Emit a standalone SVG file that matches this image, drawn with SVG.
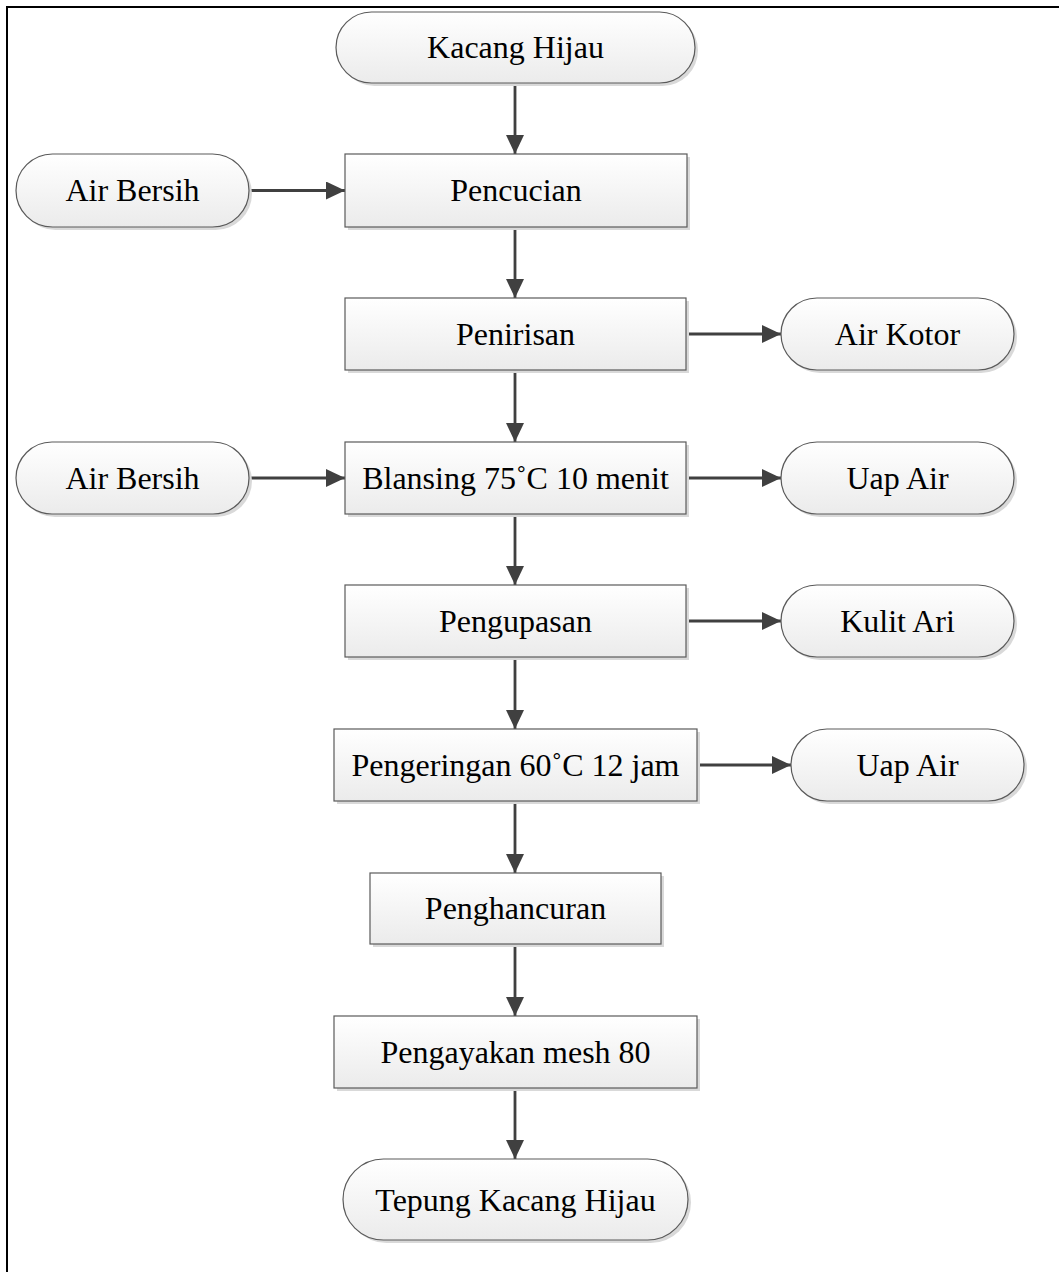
<svg xmlns="http://www.w3.org/2000/svg" width="1059" height="1272" viewBox="0 0 1059 1272">
<style>
.box{fill:url(#g);stroke:#5a5a5a;stroke-width:1.2}
.sh{fill:#d9d9d9}
.t{font-family:"Liberation Serif","Times New Roman",serif;font-size:32px;fill:#000;text-anchor:middle}
.c{stroke:#404040;stroke-width:2.8;fill:none;marker-end:url(#a)}
</style>
<defs>
<linearGradient id="g" x1="0" y1="0" x2="0" y2="1">
<stop offset="0" stop-color="#ffffff"/>
<stop offset="1" stop-color="#ebebeb"/>
</linearGradient>
<marker id="a" markerUnits="userSpaceOnUse" markerWidth="20" markerHeight="18" refX="19" refY="9" orient="auto">
<path d="M0,0 L19,9 L0,18 Z" fill="#404040"/>
</marker>
</defs>
<rect x="0" y="0" width="1059" height="1272" fill="#fff"/>
<rect x="7" y="7" width="1070" height="1290" fill="none" stroke="#000" stroke-width="2"/>

<g id="connectors">
<line class="c" x1="515" y1="83" x2="515" y2="154"/>
<line class="c" x1="249" y1="190.5" x2="345" y2="190.5"/>
<line class="c" x1="515" y1="227" x2="515" y2="298"/>
<line class="c" x1="686" y1="334" x2="781" y2="334"/>
<line class="c" x1="515" y1="370" x2="515" y2="442"/>
<line class="c" x1="249" y1="478" x2="345" y2="478"/>
<line class="c" x1="686" y1="478" x2="781" y2="478"/>
<line class="c" x1="515" y1="514" x2="515" y2="585"/>
<line class="c" x1="686" y1="621" x2="781" y2="621"/>
<line class="c" x1="515" y1="657" x2="515" y2="729"/>
<line class="c" x1="697" y1="765" x2="791" y2="765"/>
<line class="c" x1="515" y1="801" x2="515" y2="873"/>
<line class="c" x1="515" y1="944" x2="515" y2="1016"/>
<line class="c" x1="515" y1="1088" x2="515" y2="1159"/>
</g>

<g id="n-kacang">
<rect class="sh" x="339" y="15" width="359" height="71" rx="35.5"/>
<rect class="box" x="336" y="12" width="359" height="71" rx="35.5"/>
<text class="t" x="515.5" y="57.5">Kacang Hijau</text>
</g>
<g id="n-pencucian">
<rect class="sh" x="348" y="157" width="342" height="73"/>
<rect class="box" x="345" y="154" width="342" height="73"/>
<text class="t" x="516" y="201">Pencucian</text>
</g>
<g id="n-airbersih1">
<rect class="sh" x="19" y="157" width="233" height="73" rx="36.5"/>
<rect class="box" x="16" y="154" width="233" height="73" rx="36.5"/>
<text class="t" x="132.5" y="201">Air Bersih</text>
</g>
<g id="n-penirisan">
<rect class="sh" x="348" y="301" width="341" height="72"/>
<rect class="box" x="345" y="298" width="341" height="72"/>
<text class="t" x="515.5" y="345">Penirisan</text>
</g>
<g id="n-airkotor">
<rect class="sh" x="784" y="301" width="233" height="72" rx="36"/>
<rect class="box" x="781" y="298" width="233" height="72" rx="36"/>
<text class="t" x="897.5" y="345">Air Kotor</text>
</g>
<g id="n-airbersih2">
<rect class="sh" x="19" y="445" width="233" height="72" rx="36"/>
<rect class="box" x="16" y="442" width="233" height="72" rx="36"/>
<text class="t" x="132.5" y="489">Air Bersih</text>
</g>
<g id="n-blansing">
<rect class="sh" x="348" y="445" width="341" height="72"/>
<rect class="box" x="345" y="442" width="341" height="72"/>
<text class="t" x="515.5" y="489">Blansing 75˚C 10 menit</text>
</g>
<g id="n-uapair1">
<rect class="sh" x="784" y="445" width="233" height="72" rx="36"/>
<rect class="box" x="781" y="442" width="233" height="72" rx="36"/>
<text class="t" x="897.5" y="489">Uap Air</text>
</g>
<g id="n-pengupasan">
<rect class="sh" x="348" y="588" width="341" height="72"/>
<rect class="box" x="345" y="585" width="341" height="72"/>
<text class="t" x="515.5" y="632">Pengupasan</text>
</g>
<g id="n-kulitari">
<rect class="sh" x="784" y="588" width="233" height="72" rx="36"/>
<rect class="box" x="781" y="585" width="233" height="72" rx="36"/>
<text class="t" x="897.5" y="632">Kulit Ari</text>
</g>
<g id="n-pengeringan">
<rect class="sh" x="337" y="732" width="363" height="72"/>
<rect class="box" x="334" y="729" width="363" height="72"/>
<text class="t" x="515.5" y="776">Pengeringan 60˚C 12 jam</text>
</g>
<g id="n-uapair2">
<rect class="sh" x="794" y="732" width="233" height="72" rx="36"/>
<rect class="box" x="791" y="729" width="233" height="72" rx="36"/>
<text class="t" x="907.5" y="776">Uap Air</text>
</g>
<g id="n-penghancuran">
<rect class="sh" x="373" y="876" width="291" height="71"/>
<rect class="box" x="370" y="873" width="291" height="71"/>
<text class="t" x="515.5" y="919">Penghancuran</text>
</g>
<g id="n-pengayakan">
<rect class="sh" x="337" y="1019" width="363" height="72"/>
<rect class="box" x="334" y="1016" width="363" height="72"/>
<text class="t" x="515.5" y="1063">Pengayakan mesh 80</text>
</g>
<g id="n-tepung">
<rect class="sh" x="346" y="1162" width="345" height="81" rx="40.5"/>
<rect class="box" x="343" y="1159" width="345" height="81" rx="40.5"/>
<text class="t" x="515.5" y="1211">Tepung Kacang Hijau</text>
</g>
</svg>
